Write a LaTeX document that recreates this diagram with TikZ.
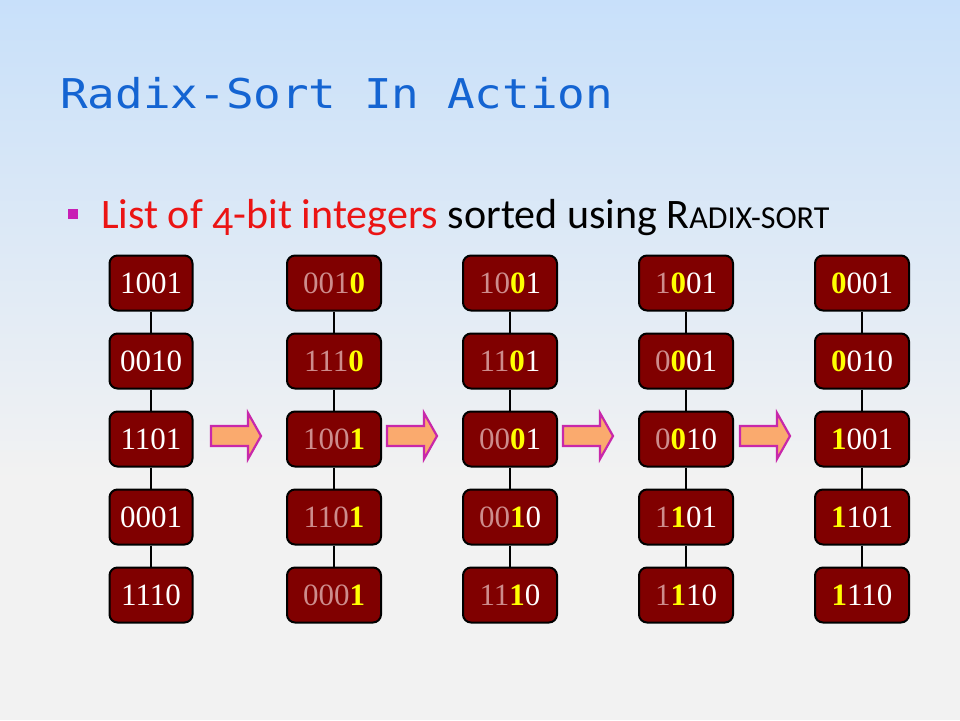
\documentclass[tikz,border=0pt]{standalone}
\usepackage{fontspec}
\setmainfont{Liberation Serif}
\newfontfamily\titlefont[FakeStretch=1.12]{DejaVu Sans Mono}
\newfontfamily\bodyfont{Carlito}
\definecolor{bgtop}{RGB}{200,224,250}
\definecolor{bgbot}{RGB}{242,242,242}
\definecolor{titleblue}{RGB}{20,100,210}
\definecolor{bulletmag}{RGB}{200,30,180}
\definecolor{listred}{RGB}{235,20,20}
\definecolor{boxred}{RGB}{128,0,0}
\definecolor{dimpink}{RGB}{205,140,140}
\definecolor{digityellow}{RGB}{255,255,0}
\definecolor{arrowfill}{RGB}{250,170,110}
\definecolor{arrowline}{RGB}{200,40,170}
\newcommand\dm[1]{\textcolor{dimpink}{#1}}
\newcommand\yb[1]{\textbf{\textcolor{digityellow}{#1}}}
\tikzset{
  numbox/.style={draw=black, line width=2pt, fill=boxred, rounded corners=8pt,
    minimum height=55pt, minimum width=94pt, inner sep=0pt, text=white,
    font=\fontsize{31}{31}\selectfont},
  conn/.style={draw=black, line width=1.6pt},
  blockarrow/.style={draw=arrowline, fill=arrowfill, line width=2.2pt, line join=miter}
}
\begin{document}
\begin{tikzpicture}[x=1pt,y=-1pt]
\useasboundingbox (0,0) rectangle (960,720);
\shade[top color=bgtop, bottom color=bgbot] (0,0) rectangle (960,480);
\fill[bgbot] (0,479) rectangle (960,720);
\node[anchor=base west, inner sep=0pt, text=titleblue, font=\titlefont\fontsize{41}{41}\selectfont] (title) at (60,108) {Radix-Sort In Action};
\fill[bulletmag] (68,209) rectangle (78,219);
\node[anchor=base west, inner sep=0pt, font=\bodyfont\fontsize{42}{42}\selectfont] (bullet) at (101,228)
  {\textcolor{listred}{List of \raisebox{-0.17em}{4}-bit integers} sorted using R{\fontsize{32}{32}\selectfont ADIX-SORT}};
% column 1
\foreach \t [count=\i] in {1001,0010,1101,0001,1110}
  \node[numbox, minimum width=83pt] (a\i) at (151,{283+78*(\i-1)}) {\t};
% column 2
\foreach \t [count=\i] in {{\dm{001}\yb{0}},{\dm{111}\yb{0}},{\dm{100}\yb{1}},{\dm{110}\yb{1}},{\dm{000}\yb{1}}}
  \node[numbox] (b\i) at (334,{283+78*(\i-1)}) {\t};
% column 3
\foreach \t [count=\i] in {{\dm{10}\yb{0}1},{\dm{11}\yb{0}1},{\dm{00}\yb{0}1},{\dm{00}\yb{1}0},{\dm{11}\yb{1}0}}
  \node[numbox] (c\i) at (510,{283+78*(\i-1)}) {\t};
% column 4
\foreach \t [count=\i] in {{\dm{1}\yb{0}01},{\dm{0}\yb{0}01},{\dm{0}\yb{0}10},{\dm{1}\yb{1}01},{\dm{1}\yb{1}10}}
  \node[numbox] (d\i) at (686,{283+78*(\i-1)}) {\t};
% column 5
\foreach \t [count=\i] in {{\yb{0}001},{\yb{0}010},{\yb{1}001},{\yb{1}101},{\yb{1}110}}
  \node[numbox] (e\i) at (862,{283+78*(\i-1)}) {\t};
% connectors
\foreach \c in {a,b,c,d,e}
  \foreach \i/\j in {1/2,2/3,3/4,4/5}
    \draw[conn] (\c\i) -- (\c\j);
% block arrows
\foreach \x in {211,387,563,740}
  \draw[blockarrow] (\x,426) -- (\x+37,426) -- (\x+37,413) -- (\x+50,436) -- (\x+37,459) -- (\x+37,446) -- (\x,446) -- cycle;
\end{tikzpicture}
\end{document}
